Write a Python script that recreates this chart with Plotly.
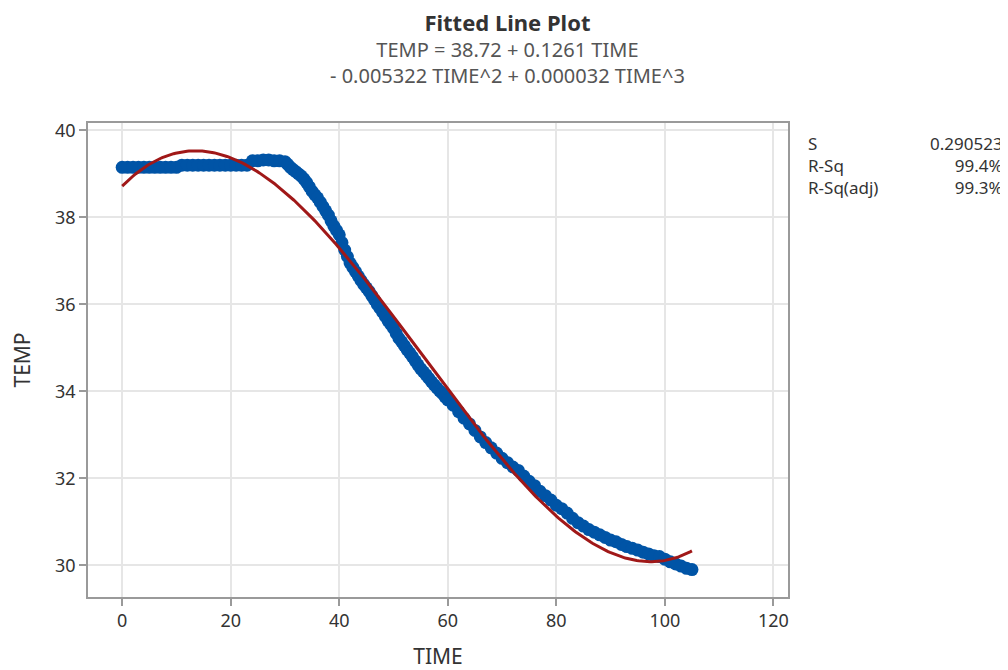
import numpy as np
import plotly.graph_objects as go

time = (
    list(range(0, 30))
    + [30 + 0.5 * i for i in range(0, 60)]   # 30.0 ... 59.5 at half steps
    + list(range(60, 106))
)
temp = [
    # 0-29
    39.15, 39.15, 39.15, 39.15, 39.15, 39.15, 39.15, 39.15, 39.15, 39.15,
    39.15, 39.2, 39.2, 39.2, 39.2, 39.2, 39.2, 39.2, 39.2, 39.2,
    39.2, 39.2, 39.2, 39.2, 39.3, 39.3, 39.32, 39.32, 39.3, 39.3,
    # 30.0-39.5 (half steps)
    39.28, 39.22, 39.15, 39.1, 39.05, 39.0, 38.95, 38.88, 38.8, 38.7,
    38.6, 38.52, 38.45, 38.35, 38.25, 38.15, 38.05, 37.92, 37.8, 37.7,
    # 40.0-49.5
    37.6, 37.42, 37.25, 37.1, 36.95, 36.85, 36.75, 36.65, 36.55, 36.46,
    36.38, 36.3, 36.2, 36.1, 36.0, 35.91, 35.82, 35.72, 35.62, 35.54,
    # 50.0-59.5
    35.45, 35.33, 35.22, 35.14, 35.05, 34.96, 34.88, 34.79, 34.7, 34.61,
    34.52, 34.45, 34.38, 34.3, 34.22, 34.15, 34.08, 34.01, 33.95, 33.87,
    # 60-105
    33.8, 33.68, 33.53, 33.38, 33.25, 33.1, 32.95, 32.82, 32.7, 32.58,
    32.46, 32.36, 32.26, 32.18, 32.05, 31.93, 31.83, 31.7, 31.6, 31.5,
    31.38, 31.3, 31.2, 31.08, 30.98, 30.9, 30.82, 30.76, 30.7, 30.64,
    30.58, 30.54, 30.48, 30.43, 30.39, 30.35, 30.3, 30.26, 30.22, 30.2,
    30.14, 30.08, 30.03, 29.98, 29.93, 29.9,
]

# Regression coefficients shown in the chart title (cubic, highest power first)
coef = [0.000032, -0.005322, 0.1261, 38.72]

stat_names = ["S", "R-Sq", "R-Sq(adj)"]
stat_values = ["0.290523", "99.4%", "99.3%"]

x_ticks = [0, 20, 40, 60, 80, 100, 120]
y_ticks = [30, 32, 34, 36, 38, 40]

FONT = "Noto Sans"
fit_t = np.linspace(min(time), max(time), 300)
fit_y = np.polyval(coef, fit_t)

fig = go.Figure()
fig.add_trace(go.Scatter(
    x=time, y=temp, mode="markers",
    marker=dict(color="#0054A6", size=13, line=dict(width=0)),
    showlegend=False, hoverinfo="x+y",
))
fig.add_trace(go.Scatter(
    x=fit_t, y=fit_y, mode="lines",
    line=dict(color="#A01818", width=3),
    showlegend=False,
))

axis_common = dict(
    showgrid=True, gridcolor="#E6E6E6", gridwidth=1.5,
    showline=True, linecolor="#9A9A9A", linewidth=1.5, mirror=True,
    ticks="outside", ticklen=7, tickcolor="#9A9A9A", tickwidth=1.5,
    tickfont=dict(family=FONT, size=18, color="#333333"),
    zeroline=False, automargin=False,
)

# page body has an 8px margin, so the figure is 1000x662 placed at (8,8)
fig.update_layout(
    width=1000, height=662,
    margin=dict(l=80, r=220, t=115, b=73, autoexpand=False),
    paper_bgcolor="white", plot_bgcolor="white",
    font=dict(family=FONT, color="#333333"),
    xaxis=dict(range=[-6.3, 122.7], tickvals=x_ticks, **axis_common,
               title=dict(text="TIME", font=dict(family=FONT, size=21, color="#333333"), standoff=27)),
    yaxis=dict(range=[29.27, 40.17], tickvals=y_ticks, **axis_common,
               title=dict(text="TEMP", font=dict(family=FONT, size=21, color="#333333"), standoff=22)),
)

# Title block (one annotation, centred on the whole figure)
title_text = (
    '<span style="font-size:22px;color:#333333"><b>Fitted Line Plot</b></span><br>'
    "TEMP = 38.72 + 0.1261 TIME<br>"
    "- 0.005322 TIME^2 + 0.000032 TIME^3"
)
fig.add_annotation(text=title_text, xref="paper", yref="paper",
                   x=0.5, y=1, xanchor="center", yanchor="middle", align="center",
                   xshift=69, yshift=123 - 48,
                   showarrow=False, font=dict(family=FONT, size=20, color="#555555"))

# Stats table
fig.add_annotation(text="<br>".join(stat_names), xref="paper", yref="paper", x=1, y=1,
                   xanchor="left", yanchor="middle", align="left",
                   xshift=806 - 788, yshift=123 - 165,
                   showarrow=False, font=dict(family=FONT, size=17, color="#333333"))
fig.add_annotation(text="<br>".join(stat_values), xref="paper", yref="paper", x=1, y=1,
                   xanchor="right", yanchor="middle", align="right",
                   xshift=1005 - 788, yshift=123 - 165,
                   showarrow=False, font=dict(family=FONT, size=17, color="#333333"))

fig.write_html("out.html")
